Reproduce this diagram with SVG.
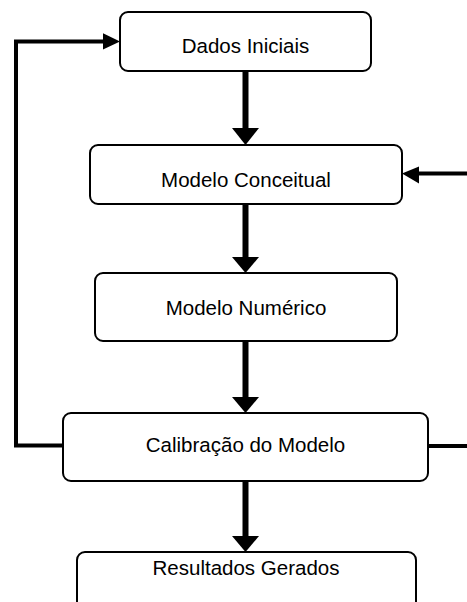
<svg xmlns="http://www.w3.org/2000/svg" width="467" height="602" viewBox="0 0 467 602">
<style>
.box{fill:#fff;stroke:#000;stroke-width:2}
.lbl{font-family:"Liberation Sans",Arial,sans-serif;font-size:20.5px;fill:#000;text-anchor:middle}
.shaft{stroke:#000;stroke-width:6;fill:none}
.thin{stroke:#000;stroke-width:4;fill:none}
.head{fill:#000}
</style>
<rect width="467" height="602" fill="#fff"/>
<g id="connectors">
<line class="shaft" x1="245.5" y1="71" x2="245.5" y2="129"/>
<polygon class="head" points="232,128 259,128 245.5,145"/>
<line class="shaft" x1="245.5" y1="204" x2="245.5" y2="258"/>
<polygon class="head" points="232,257 259,257 245.5,273"/>
<line class="shaft" x1="245.5" y1="341" x2="245.5" y2="398"/>
<polygon class="head" points="232,397 259,397 245.5,413"/>
<line class="shaft" x1="245.5" y1="481" x2="245.5" y2="537"/>
<polygon class="head" points="232,536 259,536 245.5,552"/>
<polyline class="thin" points="63,445.5 16,445.5 16,41.5 104,41.5"/>
<polygon class="head" points="103,33.3 120,41.5 103,49.5"/>
<line class="thin" x1="428" y1="446" x2="467" y2="446"/>
<line class="thin" x1="467" y1="173.5" x2="418" y2="173.5"/>
<polygon class="head" points="419,166.5 402,173.5 419,183.5"/>
</g>
<g id="n1"><rect class="box" x="120" y="12" width="251" height="59" rx="8"/><text class="lbl" x="245.5" y="53">Dados Iniciais</text></g>
<g id="n2"><rect class="box" x="90" y="145" width="312" height="59" rx="8"/><text class="lbl" x="246" y="187">Modelo Conceitual</text></g>
<g id="n3"><rect class="box" x="95" y="273" width="302" height="68" rx="8"/><text class="lbl" x="246" y="315">Modelo Numérico</text></g>
<g id="n4"><rect class="box" x="63" y="413" width="365" height="68" rx="8"/><text class="lbl" x="245.5" y="452">Calibração do Modelo</text></g>
<g id="n5"><rect class="box" x="77" y="552" width="339" height="70" rx="8"/><text class="lbl" x="246" y="575">Resultados Gerados</text></g>
</svg>
